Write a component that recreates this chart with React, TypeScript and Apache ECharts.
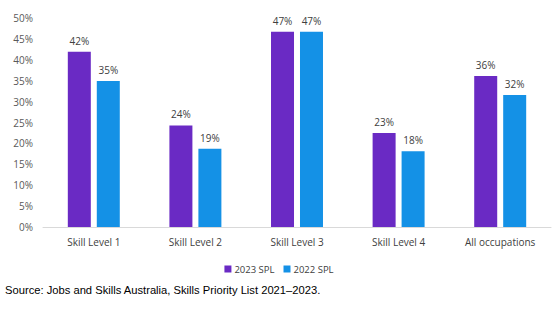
import React, { useEffect, useRef } from "react";
import * as echarts from "echarts";

const categories = ["Skill Level 1", "Skill Level 2", "Skill Level 3", "Skill Level 4", "All occupations"];
const spl2023 = [41.9, 24.3, 46.7, 22.5, 36.1];
const spl2022 = [34.9, 18.7, 46.7, 18.1, 31.6];
const seriesNames = ["2023 SPL", "2022 SPL"];
const sourceText = "Source: Jobs and Skills Australia, Skills Priority List 2021\u20132023.";

const FONT = "'Open Sans', 'Noto Sans', sans-serif";

export default function App() {
  const ref = useRef<HTMLDivElement>(null);
  useEffect(() => {
    document.body.style.margin = "0";
    const chart = echarts.init(ref.current!, null, { renderer: "svg" });
    const labelCfg = {
      show: true,
      position: "top",
      distance: 6,
      color: "#404040",
      fontFamily: FONT,
      fontSize: 10,
      formatter: (p: any) => Math.round(p.value) + "%",
    };
    chart.setOption({
      animation: false,
      backgroundColor: "#ffffff",
      textStyle: { fontFamily: FONT },
      grid: { left: 43, right: 7, top: 18, bottom: 95, containLabel: false },
      legend: {
        data: seriesNames,
        top: 259,
        left: "center",
        itemWidth: 7,
        itemHeight: 7,
        itemGap: 9,
        icon: "rect",
        textStyle: { color: "#404040", fontSize: 9.5, fontFamily: FONT, padding: [0, 0, 0, -2] },
      },
      xAxis: {
        type: "category",
        data: categories,
        axisLine: { show: true, lineStyle: { color: "#d9d9d9", width: 1 } },
        axisTick: { show: false },
        axisLabel: { color: "#404040", fontSize: 10, fontFamily: FONT, margin: 10 },
      },
      yAxis: {
        type: "value",
        min: 0,
        max: 50,
        interval: 5,
        splitLine: { show: false },
        axisLine: { show: false },
        axisTick: { show: false },
        axisLabel: {
          color: "#595959",
          fontSize: 10,
          fontFamily: FONT,
          margin: 10,
          formatter: (v: number) => v + "%",
        },
      },
      series: [
        {
          name: seriesNames[0],
          type: "bar",
          data: spl2023,
          barWidth: 23,
          barGap: "26%",
          itemStyle: { color: "#6a2ac4" },
          label: labelCfg,
        },
        {
          name: seriesNames[1],
          type: "bar",
          data: spl2022,
          barWidth: 23,
          itemStyle: { color: "#1491e6" },
          label: labelCfg,
        },
      ],
      graphic: [
        {
          type: "text",
          left: 5,
          top: 284,
          style: {
            text: sourceText,
            fill: "#000000",
            fontSize: 11.2,
            fontFamily: "'Liberation Sans', Arial, sans-serif",
          },
        },
      ],
    });
    return () => chart.dispose();
  }, []);
  return <div ref={ref} style={{ width: 558, height: 322, position: "absolute", left: 0, top: 0 }} />;
}
